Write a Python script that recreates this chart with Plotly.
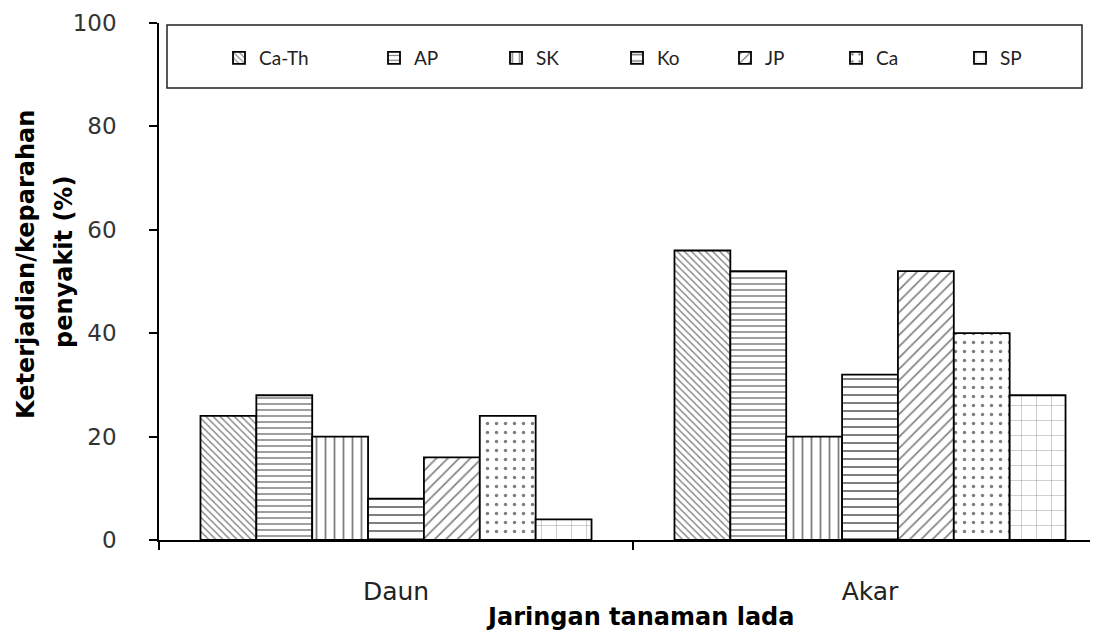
import plotly.graph_objects as go

categories = ["Daun", "Akar"]
series_names = ["Ca-Th", "AP", "SK", "Ko", "JP", "Ca", "SP"]
values = {
    "Ca-Th": [24, 56],
    "AP": [28, 52],
    "SK": [20, 20],
    "Ko": [8, 32],
    "JP": [16, 52],
    "Ca": [24, 40],
    "SP": [4, 28],
}
y_ticks = [0, 20, 40, 60, 80, 100]
x_title = "Jaringan tanaman lada"
y_title_lines = ["Keterjadian/keparahan", "penyakit (%)"]

patterns = {
    "Ca-Th": dict(shape="\\", size=5, solidity=0.28),
    "AP": dict(shape="-", size=6, solidity=0.25),
    "SK": dict(shape="|", size=9, solidity=0.2),
    "Ko": dict(shape="-", size=8, solidity=0.25),
    "JP": dict(shape="/", size=8, solidity=0.2),
    "Ca": dict(shape=".", size=9, solidity=0.12),
    "SP": dict(shape="+", size=15, solidity=0.05),
}
# screen x (px) of each legend entry's left edge
legend_left_px = [219, 374, 496, 617, 725, 836, 960]

OFF = 8  # page body margin of the browser
W, H = 1098 - OFF, 634 - OFF
ML, MR, MT, MB = 151, 0, 15, 94
PW, PH = W - ML - MR, H - MT - MB


def px_x(px):
    return (px - OFF - ML) / PW


def px_y(py):
    return 1 - (py - OFF - MT) / PH


fig = go.Figure()
legend_layouts = {}
for i, name in enumerate(series_names):
    p = patterns[name]
    lg = "legend" if i == 0 else "legend%d" % (i + 1)
    fig.add_trace(go.Bar(
        name=name, x=categories, y=values[name], legend=lg,
        marker=dict(color="white", line=dict(color="black", width=1.8),
                    pattern=dict(shape=p["shape"], size=p["size"], solidity=p["solidity"],
                                 fgcolor="black", bgcolor="white", fillmode="overlay")),
    ))
    legend_layouts[lg] = dict(
        orientation="h", x=px_x(legend_left_px[i]), y=px_y(39), xanchor="left", yanchor="top",
        borderwidth=0, bgcolor="rgba(0,0,0,0)",
        font=dict(size=19, color="#222", family="Lato, sans-serif"), itemwidth=30)

tick_font = "'DejaVu Sans', sans-serif"
title_font = "'DejaVu Sans', sans-serif"

fig.update_layout(
    width=W, height=H,
    paper_bgcolor="white", plot_bgcolor="white",
    margin=dict(l=ML, r=MR, t=MT, b=MB),
    barmode="group", bargap=0.175, bargroupgap=0,
    font=dict(family=tick_font, color="#222"),
    showlegend=True,
    xaxis=dict(type="category", range=[-0.5, 1.481], tickson="boundaries",
               ticks="outside", ticklen=8, tickcolor="black", tickwidth=1.5,
               showline=True, linecolor="black", linewidth=1.5, automargin=False,
               tickfont=dict(size=25, color="#222"), ticklabelstandoff=28),
    yaxis=dict(range=[0, 100], tickvals=y_ticks, ticks="outside", ticklen=8,
               tickcolor="black", tickwidth=1.5, showline=True, linecolor="black",
               linewidth=1.5, showgrid=False, zeroline=False, automargin=False,
               tickfont=dict(size=23, color="#333"), ticklabelstandoff=28),
    shapes=[dict(type="rect", xref="paper", yref="paper",
                 x0=px_x(167), x1=px_x(1082), y0=px_y(88), y1=px_y(25),
                 line=dict(color="#222", width=1.5), fillcolor="rgba(0,0,0,0)", layer="above")],
    annotations=[
        dict(text="<b>%s</b>" % x_title, xref="paper", yref="paper",
             x=px_x(640), y=px_y(617), xanchor="center", yanchor="middle", showarrow=False,
             font=dict(size=24, color="black", family=title_font)),
        dict(text="<b>%s</b>" % y_title_lines[0], xref="paper", yref="paper",
             x=px_x(26), y=px_y(265), xanchor="center", yanchor="middle", showarrow=False,
             textangle=-90, font=dict(size=24, color="black", family=title_font)),
        dict(text="<b>%s</b>" % y_title_lines[1], xref="paper", yref="paper",
             x=px_x(64), y=px_y(262), xanchor="center", yanchor="middle", showarrow=False,
             textangle=-90, font=dict(size=24, color="black", family=title_font)),
    ],
)
fig.update_layout(**legend_layouts)
fig.write_html("out.html")
